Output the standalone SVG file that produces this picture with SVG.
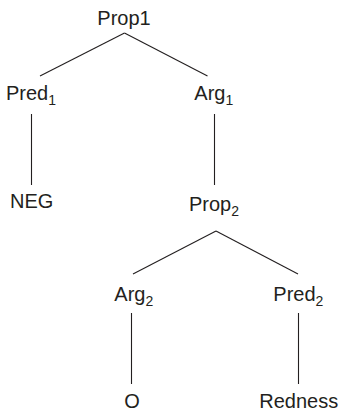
<svg xmlns="http://www.w3.org/2000/svg" width="341" height="413" viewBox="0 0 341 413">
<style>
text{font-family:"Liberation Sans",Arial,sans-serif;font-size:20px;fill:#231f20}
.sub{font-size:14px}
.edge{stroke:#231f20;stroke-width:1.1;fill:none}
</style>
<rect width="341" height="413" fill="#fff"/>
<g id="connectors">
<line class="edge" x1="124.5" y1="33" x2="40" y2="76"/>
<line class="edge" x1="124.5" y1="33" x2="207.5" y2="76"/>
<line class="edge" x1="31.5" y1="114" x2="31.5" y2="185"/>
<line class="edge" x1="214.5" y1="114" x2="214.5" y2="185"/>
<line class="edge" x1="216" y1="231" x2="133" y2="274"/>
<line class="edge" x1="216" y1="231" x2="298" y2="274"/>
<line class="edge" x1="131.5" y1="313" x2="131.5" y2="384"/>
<line class="edge" x1="298.5" y1="313" x2="298.5" y2="384"/>
</g>
<g id="prop1"><text x="97.3" y="25">Prop1</text></g>
<g id="pred1"><text x="6" y="100">Pred<tspan class="sub" dy="4.5">1</tspan></text></g>
<g id="arg1"><text x="194.3" y="100">Arg<tspan class="sub" dy="4.5">1</tspan></text></g>
<g id="neg"><text x="10" y="208">NEG</text></g>
<g id="prop2"><text x="189" y="211">Prop<tspan class="sub" dy="4.5">2</tspan></text></g>
<g id="arg2"><text x="114.3" y="301">Arg<tspan class="sub" dy="4.5">2</tspan></text></g>
<g id="pred2"><text x="273.3" y="301">Pred<tspan class="sub" dy="4.5">2</tspan></text></g>
<g id="o"><text x="132" y="408" text-anchor="middle">O</text></g>
<g id="redness"><text x="259.3" y="408">Redness</text></g>
</svg>
